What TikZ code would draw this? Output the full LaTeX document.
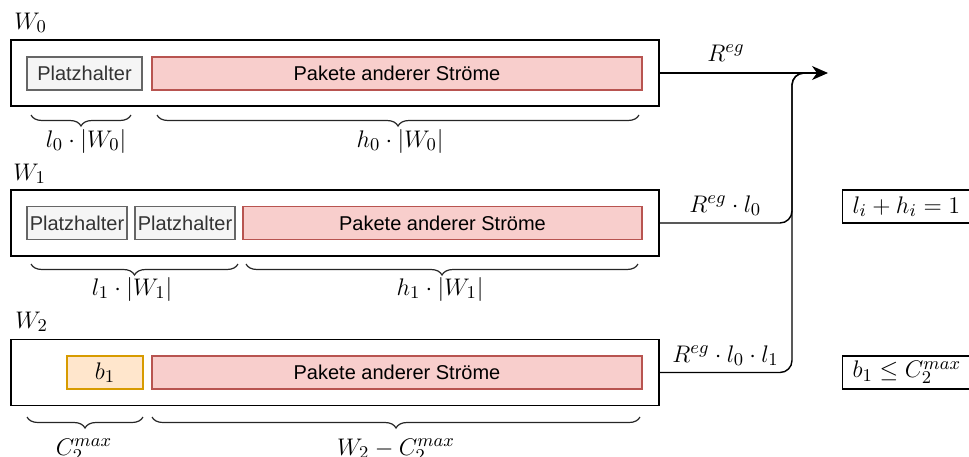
\documentclass[tikz,border=0pt]{standalone}
\usepackage{fontspec}
\newfontfamily\sansf{Liberation Sans}
\usetikzlibrary{decorations.pathreplacing,arrows.meta}
\definecolor{phfill}{HTML}{F5F5F5}
\definecolor{phdraw}{HTML}{666666}
\definecolor{phtext}{HTML}{333333}
\definecolor{pkfill}{HTML}{F8CECC}
\definecolor{pkdraw}{HTML}{B85450}
\definecolor{orfill}{HTML}{FFE6CC}
\definecolor{ordraw}{HTML}{D79B00}
\tikzset{
  window/.style={draw=black, line width=0.7pt, fill=white, minimum width=324pt, minimum height=33pt, inner sep=0pt},
  slot/.style={line width=0.65pt, minimum height=16.5pt, inner sep=0pt, font=\sansf\fontsize{10}{12}\selectfont},
  phbox/.style={slot, draw=phdraw, fill=phfill, text=phtext},
  pkbox/.style={slot, draw=pkdraw, fill=pkfill, text=black},
  orbox/.style={slot, draw=ordraw, fill=orfill, text=black, font=\fontsize{12.5}{14}\selectfont},
  mlbl/.style={font=\fontsize{12.5}{14}\selectfont, inner sep=0pt},
  brc/.style={draw=black!85, line width=0.6pt, decorate, decoration={brace, mirror, amplitude=5.5pt}},
  conn/.style={draw=black, line width=0.7pt},
  cbox/.style={draw=black, line width=0.7pt, minimum height=16.5pt, text width=70pt, align=left, inner xsep=5pt, inner ysep=0pt, font=\fontsize{12.5}{14}\selectfont, anchor=west}
}
\begin{document}
\begin{tikzpicture}[x=0.5pt, y=-0.5pt]
\clip (0,0) rectangle (969,456);

% ---- window W0 ----
\node[mlbl, anchor=base west] (t0) at (14,29) {$W_0$};
\node[window] (w0) at (335,73) {};
\node[phbox, minimum width=57.5pt] (p00) at (84.5,73.5) {Platzhalter};
\node[pkbox, minimum width=245pt] (k0) at (397,73.5) {Pakete anderer Ströme};
\draw[brc] (31,115) -- coordinate (m00) (131,115);
\draw[brc] (157,115) -- coordinate (m01) (639,115);
\node[mlbl] (l00) at (86,141) {$l_0\cdot|W_0|$};
\node[mlbl] (l01) at (400,141) {$h_0\cdot|W_0|$};

% ---- window W1 ----
\node[mlbl, anchor=base west] (t1) at (13,180) {$W_1$};
\node[window] (w1) at (335,223) {};
\node[phbox, minimum width=50pt] (p10) at (77,223) {Platzhalter};
\node[phbox, minimum width=50pt] (p11) at (185,223) {Platzhalter};
\node[pkbox, minimum width=199.5pt] (k1) at (442.5,223) {Pakete anderer Ströme};
\draw[brc] (31,264) -- coordinate (m10) (238,264);
\draw[brc] (246,264) -- coordinate (m11) (638,264);
\node[mlbl] (l10) at (132,289) {$l_1\cdot|W_1|$};
\node[mlbl] (l11) at (440,289) {$h_1\cdot|W_1|$};

% ---- window W2 ----
\node[mlbl, anchor=base west] (t2) at (15,328) {$W_2$};
\node[window] (w2) at (335,372.5) {};
\node[orbox, minimum width=38pt] (b1) at (105,372.5) {$b_1$};
\node[pkbox, minimum width=245pt] (k2) at (397,372.5) {Pakete anderer Ströme};
\draw[brc] (27,417) -- coordinate (m20) (143,417);
\draw[brc] (152,417) -- coordinate (m21) (640,417);
\node[mlbl] (l20) at (84,450) {$C_2^{max}$};
\node[mlbl] (l21) at (396,450) {$W_2 - C_2^{max}$};

% ---- outgoing rates ----
\coordinate (out) at (828,73);
\coordinate (jn) at (792,73);
\coordinate (mrg) at (810,73);
\draw[conn, -{Stealth[length=8pt, width=7pt, inset=2.5pt]}] (w0.east) -- (out);
\draw[conn, rounded corners=6pt] (w1.east) -| (jn) -- (mrg);
\draw[conn, rounded corners=6pt] (w2.east) -| (jn) -- (mrg);
\node[mlbl, anchor=base west] (r0) at (707,61) {$R^{eg}$};
\node[mlbl, anchor=base west] (r1) at (689,212) {$R^{eg}\cdot l_0$};
\node[mlbl, anchor=base west] (r2) at (672,362) {$R^{eg}\cdot l_0\cdot l_1$};

% ---- constraints ----
\node[cbox] (c1) at (842,206.5) {$l_i + h_i = 1$};
\node[cbox] (c2) at (842,372.5) {$b_1 \leq C_2^{max}$};
\end{tikzpicture}
\end{document}
